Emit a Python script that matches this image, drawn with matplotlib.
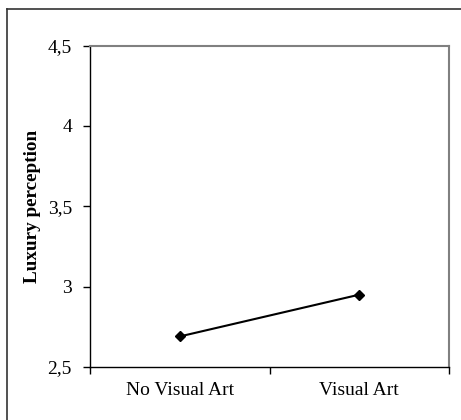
import matplotlib
matplotlib.use("Agg")
import matplotlib.pyplot as plt
from matplotlib.lines import Line2D
from matplotlib.ticker import FixedLocator, FuncFormatter

categories = ["No Visual Art", "Visual Art"]
values = [2.69, 2.95]
yticks = [2.5, 3.0, 3.5, 4.0, 4.5]
ylabel = "Luxury perception"

plt.rcParams['font.family'] = ['Liberation Serif', 'DejaVu Serif']

fig = plt.figure(figsize=(4.61, 4.20), dpi=100)
W, H = 461, 420
ax = fig.add_axes([90/W, 1 - 367/H, (449-90)/W, (367-45.5)/H])

xs = [i + 0.5 for i in range(len(categories))]
ax.plot(xs, values, color='black', lw=1.5, marker='D', markersize=5.5,
        markerfacecolor='black', markeredgecolor='black')

ax.set_xlim(0, len(categories))
ax.set_ylim(yticks[0], yticks[-1])
ax.set_yticks(yticks)
ax.yaxis.set_major_formatter(FuncFormatter(lambda v, p: (f"{v:g}").replace('.', ',')))
ax.xaxis.set_major_locator(FixedLocator(list(range(len(categories) + 1))))
ax.xaxis.set_minor_locator(FixedLocator(xs))
ax.set_xticklabels([''] * (len(categories) + 1))
ax.set_xticklabels(categories, minor=True)
ax.tick_params(axis='x', which='minor', length=0, pad=11, labelsize=14)
ax.tick_params(axis='x', which='major', direction='out', length=5, width=1)
ax.tick_params(axis='y', direction='out', length=5, width=1, labelsize=14, pad=8)

for s in ['left', 'bottom']:
    ax.spines[s].set_color('black')
    ax.spines[s].set_linewidth(1)
for s in ['top', 'right']:
    ax.spines[s].set_color('#808080')
    ax.spines[s].set_linewidth(1.5)

ax.set_ylabel(ylabel, fontsize=13.8, fontweight='bold', labelpad=5)

# outer frame (left and top edges)
fig.add_artist(Line2D([6.5/W, 6.5/W], [0, 1 - 9/H], transform=fig.transFigure, color='#333333', lw=1.2))
fig.add_artist(Line2D([6.5/W, 1], [1 - 9/H, 1 - 9/H], transform=fig.transFigure, color='#333333', lw=1.2))

fig.savefig("out.png", dpi=100)
